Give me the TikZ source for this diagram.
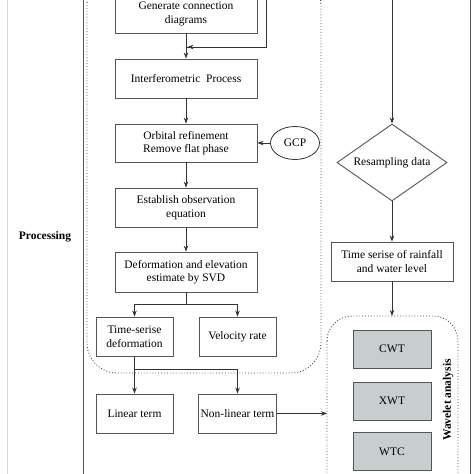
\documentclass[tikz,border=0pt]{standalone}
\usepackage{fontspec}
\setmainfont{Liberation Serif}
\usepackage{tikz}
\usetikzlibrary{shapes.geometric,arrows.meta}
\definecolor{boxgray}{RGB}{200,205,205}
\definecolor{linegray}{RGB}{85,85,85}

\begin{document}
\begin{tikzpicture}[x=1pt,y=-1pt,font=\fontsize{11.5}{13.5}\selectfont]
          \tikzstyle{every node}+=[inner sep=2pt]
          \tikzstyle{procbox}=[draw=linegray, line width=0.9pt, minimum width=142pt, minimum height=39pt, align=center]
          \tikzstyle{smallbox}=[procbox, minimum width=77pt]
          \tikzstyle{wavebox}=[draw=linegray, line width=0.9pt, fill=boxgray, minimum width=78pt, minimum height=38pt]
          \tikzstyle{flow}=[draw=black!80, line width=0.7pt, -{Stealth[length=6pt,width=4.5pt]}]
          \tikzstyle{link}=[draw=black!80, line width=0.7pt]
          \useasboundingbox (0,0) rectangle (474,474);
          % frame
          \draw [black!15, line width=0.8pt] (7,0) -- (7,474);
          \draw [linegray, line width=0.9pt] (83,0) -- (83,474);
          \draw [linegray, line width=0.9pt] (470,0) -- (470,474);
          \node [font=\fontsize{11.5}{13.5}\selectfont\bfseries] (proc) at (45,237) {Processing};
          % grouping of the InSAR steps
          \draw [black!70, dotted, line width=0.9pt, rounded corners=30pt] (87,-25) rectangle (321,373);
          \draw [black!70, dotted, line width=0.9pt, rounded corners=25pt] (327,316) rectangle (458,500);
          % left column
          \node [procbox] (gen) at (186,14) {Generate connection\\diagrams};
          \node [procbox] (inter) at (186,78.5) {Interferometric~ Process};
          \node [procbox, minimum height=38pt] (orb) at (186,143) {Orbital refinement\\Remove flat phase};
          \node [procbox] (est) at (186,207.5) {Establish observation\\equation};
          \node [procbox, minimum height=40pt] (def) at (186,272) {Deformation and elevation\\estimate by SVD};
          \node [smallbox] (ts) at (134.5,336.5) {Time-serise\\deformation};
          \node [smallbox] (vel) at (237.5,336.5) {Velocity rate};
          \node [smallbox] (lin) at (134.5,413.5) {Linear term};
          \node [smallbox] (nonlin) at (237.5,413.5) {Non-linear term};
          \node [draw=black!80, line width=0.8pt, ellipse, minimum width=49pt, minimum height=33pt, inner sep=0pt] (gcp) at (295,143) {GCP};
          % right column
          \node [draw=linegray, line width=0.9pt, diamond, aspect=1.43, minimum width=110pt, minimum height=77pt, inner sep=0pt] (resamp) at (392,162.5) {Resampling data};
          \node [procbox, minimum width=122pt] (rain) at (392,261.5) {Time serise of rainfall\\and water level};
          \node [wavebox] (cwt) at (392,349) {CWT};
          \node [wavebox] (xwt) at (392,401) {XWT};
          \node [wavebox] (wtc) at (392,451.5) {WTC};
          \node [rotate=90, font=\fontsize{11.5}{13.5}\selectfont\bfseries] (wave) at (448,400) {Wavelet analysis};
          \coordinate (topin) at (266,0);
          \coordinate (topright) at (392,0);
          \coordinate (join) at (186,47);
          \coordinate (wtop) at (392,316);
          \coordinate (wleft) at (327,413.5);
          % connectors
          \draw [flow] (gen) -- (inter);
          \draw [link] (topin) |- (join);
          \draw [flow] (266,47) -- (187.5,47);
          \draw [flow] (inter) -- (orb);
          \draw [flow] (orb) -- (est);
          \draw [flow] (est) -- (def);
          \draw [flow] (gcp) -- (orb.east);
          \draw [link] (def.south) -- (186,304);
          \draw [flow] (186,304) -| (ts.north);
          \draw [flow] (186,304) -| (vel.north);
          \draw [flow] (ts.south) -- (lin.north);
          \draw [flow] (134.5,369) -| (nonlin.north);
          \draw [flow] (nonlin.east) -- (wleft);
          \draw [flow] (topright) -- (resamp.north);
          \draw [flow] (resamp.south) -- (rain.north);
          \draw [flow] (rain.south) -- (wtop);
        \end{tikzpicture}
\end{document}
